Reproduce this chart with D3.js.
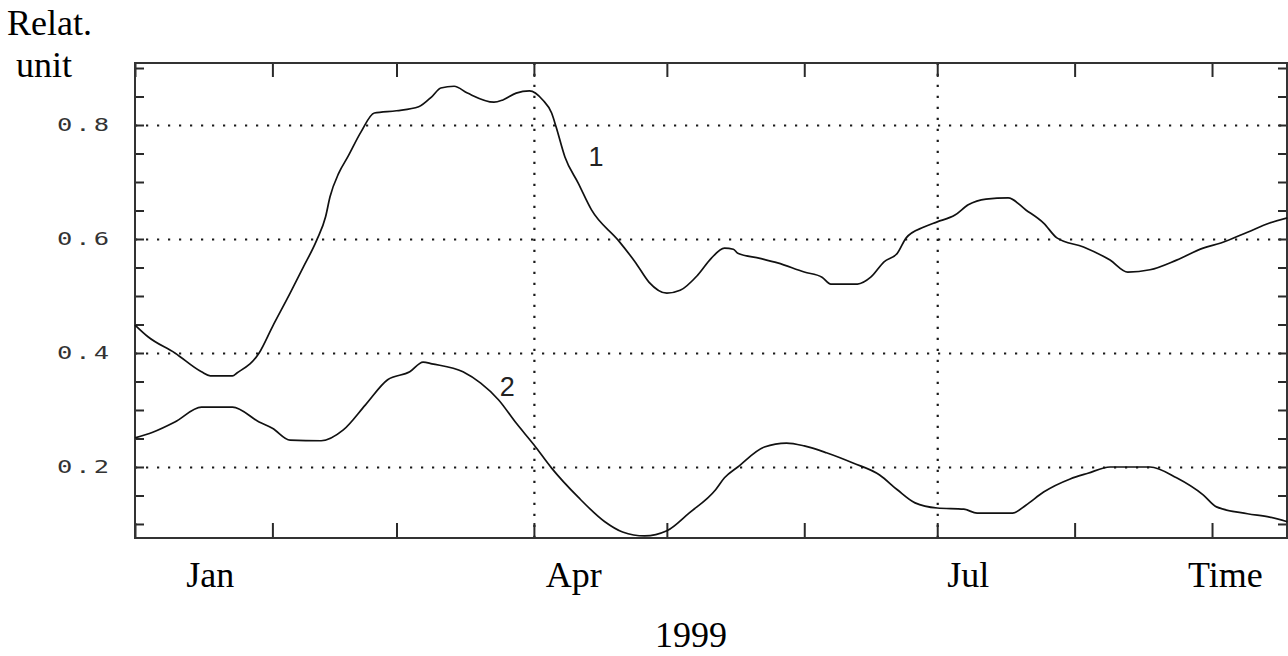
<!DOCTYPE html>
<html>
<head>
<meta charset="utf-8">
<script src="https://cdn.jsdelivr.net/npm/d3@7"></script>
<style>
body { margin: 0; background: #fff; }
.tick line { stroke: #2a2a2a; stroke-width: 2; }
.grid .tick line { stroke: #1a1a1a; stroke-width: 2.2; stroke-dasharray: 2.2, 8.8; }
.frame { fill: none; stroke: #333; stroke-width: 2; }
.line { fill: none; stroke: #111; stroke-width: 1.7; }
.serif { font-family: "Liberation Serif", "Times New Roman", serif; font-size: 36px; fill: #000; }
.ylab { font-family: "DejaVu Sans Mono", monospace; font-size: 17px; fill: #333; letter-spacing: 2px; }
.tag { font-family: "Liberation Sans", Arial, sans-serif; font-size: 27px; fill: #222; }
</style>
</head>
<body>
<script>
// days since 1 Jan 1999 and relative values
var days1 = [0, 3, 9, 15, 17, 22, 23, 28, 31, 35, 38, 41, 43, 44, 46, 48, 51, 54, 59, 64, 67, 69, 72, 75, 81, 83, 86, 89, 92, 94, 95, 97, 100, 103, 109, 113, 116, 120, 123, 127, 130, 133, 135, 136, 141, 145, 151, 155, 157, 163, 166, 169, 172, 174, 178, 181, 185, 188, 192, 197, 201, 205, 208, 214, 220, 224, 229, 235, 241, 245, 251, 256, 260];
var values1 = [0.449, 0.428, 0.40, 0.367, 0.36, 0.36, 0.365, 0.40, 0.446, 0.505, 0.551, 0.598, 0.639, 0.674, 0.716, 0.744, 0.788, 0.821, 0.825, 0.832, 0.850, 0.865, 0.868, 0.856, 0.84, 0.844, 0.856, 0.86, 0.844, 0.821, 0.797, 0.744, 0.698, 0.651, 0.598, 0.558, 0.524, 0.505, 0.51, 0.537, 0.566, 0.584, 0.582, 0.575, 0.566, 0.558, 0.542, 0.533, 0.521, 0.521, 0.533, 0.56, 0.575, 0.602, 0.621, 0.63, 0.642, 0.66, 0.670, 0.672, 0.651, 0.628, 0.602, 0.586, 0.563, 0.542, 0.546, 0.563, 0.584, 0.593, 0.612, 0.628, 0.637];

var days2 = [0, 4, 9, 15, 22, 28, 31, 35, 42, 47, 52, 57, 62, 65, 67, 74, 78, 82, 86, 90, 94, 100, 106, 110, 115, 120, 125, 131, 133, 136, 142, 147, 151, 156, 162, 168, 172, 176, 181, 187, 190, 198, 201, 205, 211, 215, 220, 229, 235, 241, 244, 251, 256, 260];
var values2 = [0.251, 0.261, 0.279, 0.305, 0.305, 0.279, 0.268, 0.247, 0.246, 0.265, 0.309, 0.353, 0.367, 0.384, 0.381, 0.367, 0.347, 0.318, 0.277, 0.239, 0.198, 0.147, 0.104, 0.086, 0.079, 0.088, 0.119, 0.16, 0.181, 0.2, 0.235, 0.242, 0.237, 0.225, 0.207, 0.186, 0.16, 0.137, 0.128, 0.126, 0.119, 0.119, 0.133, 0.156, 0.179, 0.189, 0.2, 0.2, 0.181, 0.151, 0.13, 0.118, 0.112, 0.104];

var seriesNames = ["1", "2"];
var yTickLabels = [0.2, 0.4, 0.6, 0.8];
var xLabels = ["Jan", "Apr", "Jul", "Time"];
var xLabelDays = [17, 99, 188, 246];
var yearLabel = "1999";

var margin = {top: 63, right: 1, bottom: 118, left: 135},
    width = 1288 - margin.left - margin.right,
    height = 656 - margin.top - margin.bottom;

var start = new Date(Date.UTC(1999, 0, 1));
function day(d) { return d3.utcDay.offset(start, d); }

var svgRoot = d3.select("body").append("svg")
    .attr("width", 1288)
    .attr("height", 656);

var svg = svgRoot.append("g")
    .attr("transform", "translate(" + margin.left + "," + margin.top + ")");

var x = d3.scaleUtc()
    .domain([start, new Date(Date.UTC(1999, 8, 17, 22))])
    .range([0, width]);
var y = d3.scaleLinear()
    .domain([0.0754, 0.9088])
    .range([height, 0]);

var series = [
  {id: seriesNames[0], values: days1.map(function(d, i) { return {date: day(d), v: values1[i]}; })},
  {id: seriesNames[1], values: days2.map(function(d, i) { return {date: day(d), v: values2[i]}; })}
];

function noDomain(g) { g.select(".domain").remove(); }

// dotted grid
svg.append("g")
    .attr("class", "grid")
    .call(d3.axisLeft(y).tickValues(yTickLabels).tickSize(-width).tickFormat(""))
    .call(noDomain);
svg.append("g")
    .attr("class", "grid")
    .attr("transform", "translate(0," + height + ")")
    .call(d3.axisBottom(x).tickValues([day(90), day(181)]).tickSize(-height).tickFormat(""))
    .call(noDomain);

// minor ticks inside the frame
var minor = d3.range(0.1, 0.901, 0.05);
svg.append("g")
    .call(d3.axisLeft(y).tickValues(minor).tickSize(-9).tickFormat(""))
    .call(noDomain);
svg.append("g")
    .attr("transform", "translate(" + width + ",0)")
    .call(d3.axisRight(y).tickValues(minor).tickSize(-9).tickFormat(""))
    .call(noDomain);
svg.append("g")
    .attr("transform", "translate(0," + height + ")")
    .call(d3.axisBottom(x).ticks(d3.utcMonth.every(1)).tickSize(-15).tickFormat(""))
    .call(noDomain);
svg.append("g")
    .call(d3.axisTop(x).ticks(d3.utcMonth.every(1)).tickSize(-14).tickFormat(""))
    .call(noDomain);

svg.append("rect")
    .attr("class", "frame")
    .attr("x", 0).attr("y", 0)
    .attr("width", width).attr("height", height);

// lines
var line = d3.line()
    .curve(d3.curveMonotoneX)
    .x(function(d) { return x(d.date); })
    .y(function(d) { return y(d.v); });

svg.selectAll(".line")
    .data(series)
    .enter().append("path")
    .attr("class", "line")
    .attr("d", function(d) { return line(d.values); });

// series tags
var tagPos = [{d: 104, v: 0.728}, {d: 84, v: 0.325}];
svg.selectAll(".tag")
    .data(series)
    .enter().append("text")
    .attr("class", "tag")
    .attr("text-anchor", "middle")
    .attr("x", function(d, i) { return x(day(tagPos[i].d)); })
    .attr("y", function(d, i) { return y(tagPos[i].v); })
    .text(function(d) { return d.id; });

// y tick labels, wide pixel-style font
svg.selectAll(".ylab")
    .data(yTickLabels)
    .enter().append("text")
    .attr("class", "ylab")
    .attr("text-anchor", "end")
    .attr("dy", "0.36em")
    .attr("transform", function(d) { return "translate(-23," + y(d) + ") scale(1.5,1)"; })
    .text(function(d) { return d3.format(".1f")(d); });

// x labels
svg.selectAll(".xlab")
    .data(xLabels)
    .enter().append("text")
    .attr("class", "serif")
    .attr("text-anchor", "middle")
    .attr("x", function(d, i) { return x(day(xLabelDays[i])); })
    .attr("y", height + 49)
    .text(function(d) { return d; });

svgRoot.append("text")
    .attr("class", "serif")
    .attr("text-anchor", "middle")
    .attr("x", 691)
    .attr("y", 647)
    .text(yearLabel);

svgRoot.append("text")
    .attr("class", "serif")
    .attr("x", 7).attr("y", 35)
    .text("Relat.");
svgRoot.append("text")
    .attr("class", "serif")
    .attr("x", 16).attr("y", 77)
    .text("unit");
</script>
</body>
</html>
